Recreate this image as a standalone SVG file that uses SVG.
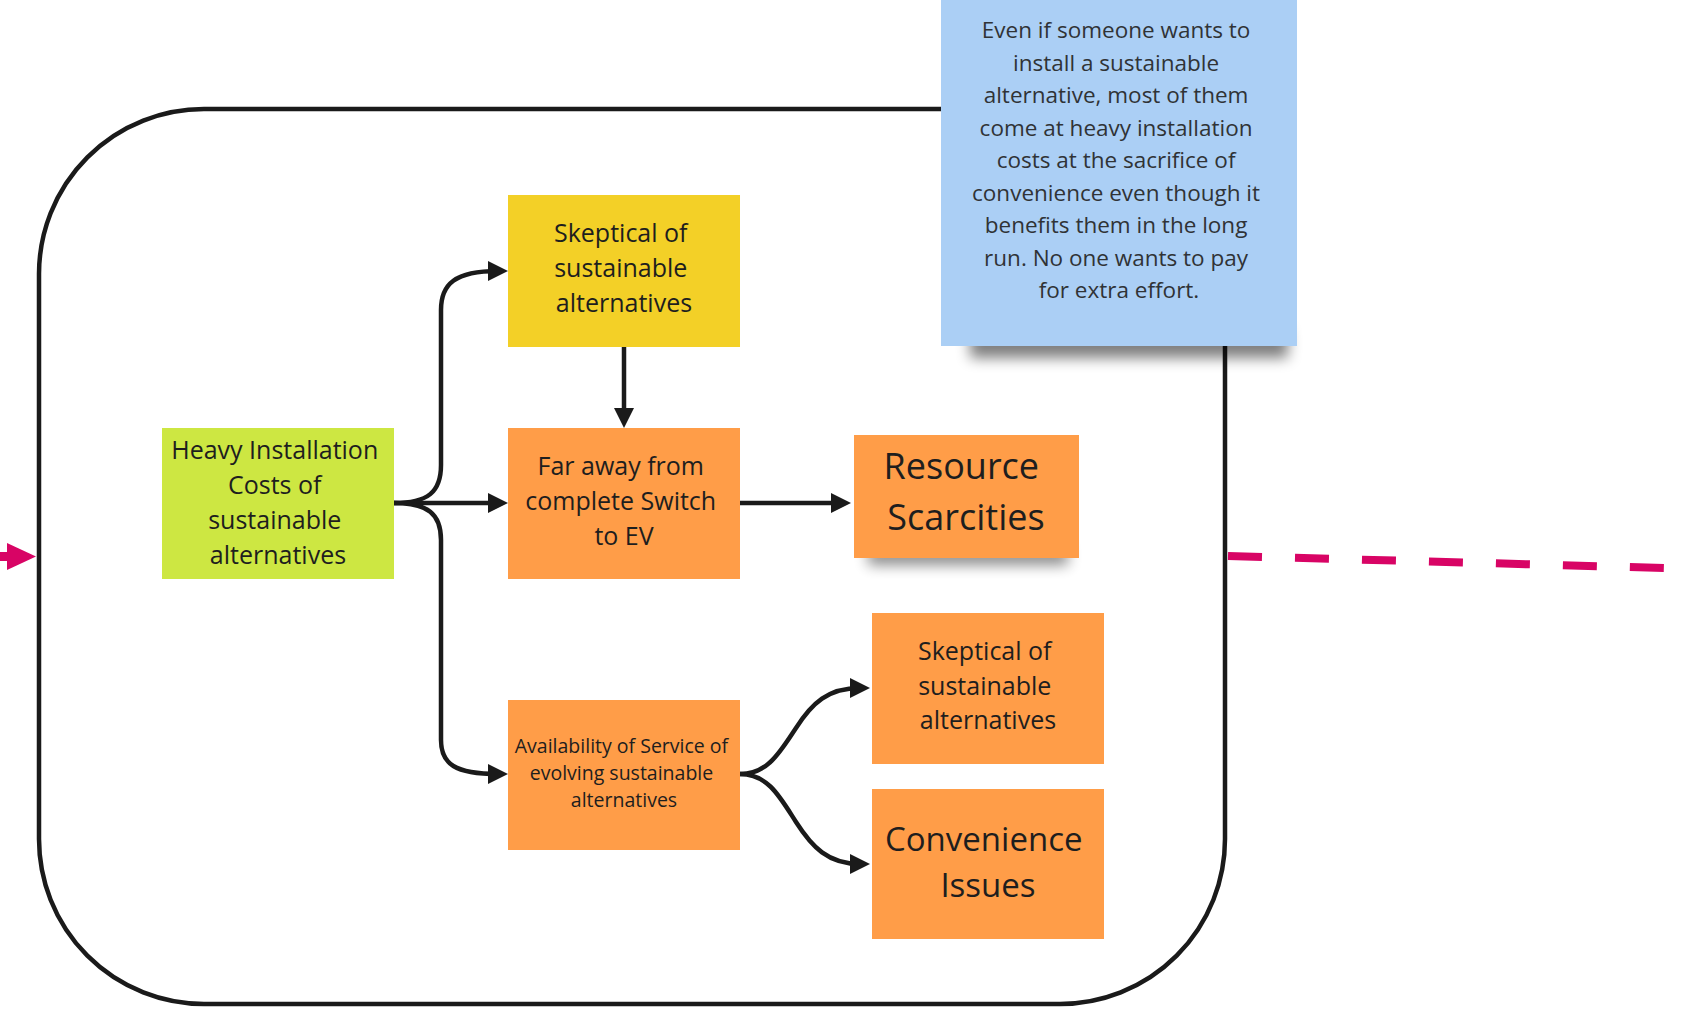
<svg xmlns="http://www.w3.org/2000/svg" width="1691" height="1010" viewBox="0 0 1691 1010">
  <defs>
    <style>
      .lbl { font-family: "Open Sans", "Liberation Sans", sans-serif; fill: #1e1e1e; text-anchor: middle; }
      .note-txt { font-family: "Open Sans", "Liberation Sans", sans-serif; fill: #303336; text-anchor: middle; font-size: 22.5px; }
      .edge { fill: none; stroke: #1a1a1a; stroke-width: 4.5; stroke-linejoin: round; }
      .frame { fill: none; stroke: #1a1a1a; stroke-width: 4.5; }
    </style>
    <marker id="head" markerUnits="userSpaceOnUse" viewBox="0 0 20 20" markerWidth="20" markerHeight="20" refX="10" refY="10" orient="auto">
      <path d="M0,0 L20,10 L0,20 z" fill="#1a1a1a"/>
    </marker>
    <filter id="soft" x="-20%" y="-150%" width="140%" height="400%">
      <feGaussianBlur stdDeviation="7"/>
    </filter>
  </defs>

  <rect width="1691" height="1010" fill="#ffffff"/>

  <!-- grouping frame -->
  <rect class="frame" x="39" y="109" width="1186" height="895" rx="165" ry="165"/>

  <!-- incoming arrow on the left -->
  <g id="incoming-arrow">
    <rect x="0" y="552" width="10" height="9" fill="#d80465"/>
    <path d="M7,543 L36,556.5 L7,570 z" fill="#d80465"/>
  </g>

  <!-- outgoing dashed link on the right -->
  <g id="outgoing-link">
    <path d="M1228,556 L1664,568" fill="none" stroke="#d80465" stroke-width="8" stroke-dasharray="34 33"/>
  </g>

  <!-- connectors -->
  <g id="connectors">
    <path class="edge" marker-end="url(#head)" d="M394,503 C428,503 441,492 441,465 L441,310 C441,284 455,271 498,271"/>
    <path class="edge" marker-end="url(#head)" d="M394,503 L498,503"/>
    <path class="edge" marker-end="url(#head)" d="M394,503 C428,503 441,514 441,540 L441,740 C441,764 455,774 498,774"/>
    <path class="edge" marker-end="url(#head)" d="M624,347 L624,418"/>
    <path class="edge" marker-end="url(#head)" d="M740,503 L841,503"/>
    <path class="edge" marker-end="url(#head)" d="M740,774 C768,774 780,752 796,728 C812,703 828,688 860,688"/>
    <path class="edge" marker-end="url(#head)" d="M740,774 C768,774 780,797 796,822 C812,847 828,864 860,864"/>
  </g>

  <!-- nodes -->
  <g id="node-heavy-costs">
    <rect x="162" y="428" width="232" height="151" fill="#cde742"/>
    <text class="lbl" font-size="25">
      <tspan x="278" y="459">Heavy Installation</tspan>
      <tspan x="278" y="494">Costs of</tspan>
      <tspan x="278" y="529">sustainable</tspan>
      <tspan x="278" y="564">alternatives</tspan>
    </text>
  </g>

  <g id="node-skeptical-yellow">
    <rect x="508" y="195" width="232" height="152" fill="#f3d027"/>
    <text class="lbl" font-size="25">
      <tspan x="624" y="242">Skeptical of</tspan>
      <tspan x="624" y="277">sustainable</tspan>
      <tspan x="624" y="312">alternatives</tspan>
    </text>
  </g>

  <g id="node-far-away">
    <rect x="508" y="428" width="232" height="151" fill="#ff9d48"/>
    <text class="lbl" font-size="25">
      <tspan x="624" y="475">Far away from</tspan>
      <tspan x="624" y="510">complete Switch</tspan>
      <tspan x="624" y="545">to EV</tspan>
    </text>
  </g>

  <g id="node-resource-scarcities">
    <rect x="868" y="547" width="200" height="18" fill="#000" opacity="0.45" filter="url(#soft)"/>
    <rect x="854" y="435" width="225" height="123" fill="#ff9d48"/>
    <text class="lbl" font-size="36">
      <tspan x="966" y="479">Resource</tspan>
      <tspan x="966" y="530">Scarcities</tspan>
    </text>
  </g>

  <g id="node-availability">
    <rect x="508" y="700" width="232" height="150" fill="#ff9d48"/>
    <text class="lbl" font-size="19.5">
      <tspan x="624" y="753">Availability of Service of</tspan>
      <tspan x="624" y="780">evolving sustainable</tspan>
      <tspan x="624" y="807">alternatives</tspan>
    </text>
  </g>

  <g id="node-skeptical-orange">
    <rect x="872" y="613" width="232" height="151" fill="#ff9d48"/>
    <text class="lbl" font-size="25">
      <tspan x="988" y="660">Skeptical of</tspan>
      <tspan x="988" y="695">sustainable</tspan>
      <tspan x="988" y="729">alternatives</tspan>
    </text>
  </g>

  <g id="node-convenience">
    <rect x="872" y="789" width="232" height="150" fill="#ff9d48"/>
    <text class="lbl" font-size="33">
      <tspan x="988" y="851">Convenience</tspan>
      <tspan x="988" y="897">Issues</tspan>
    </text>
  </g>

  <g id="note-installation">
    <rect x="970" y="330" width="318" height="28" fill="#000" opacity="0.5" filter="url(#soft)"/>
    <rect x="941" y="0" width="356" height="346" fill="#abcff5"/>
    <text class="note-txt">
      <tspan x="1119" y="38">Even if someone wants to</tspan>
      <tspan x="1119" y="70.5">install a sustainable</tspan>
      <tspan x="1119" y="103">alternative, most of them</tspan>
      <tspan x="1119" y="135.5">come at heavy installation</tspan>
      <tspan x="1119" y="168">costs at the sacrifice of</tspan>
      <tspan x="1119" y="200.5">convenience even though it</tspan>
      <tspan x="1119" y="233">benefits them in the long</tspan>
      <tspan x="1119" y="265.5">run. No one wants to pay</tspan>
      <tspan x="1119" y="298">for extra effort.</tspan>
    </text>
  </g>
</svg>
